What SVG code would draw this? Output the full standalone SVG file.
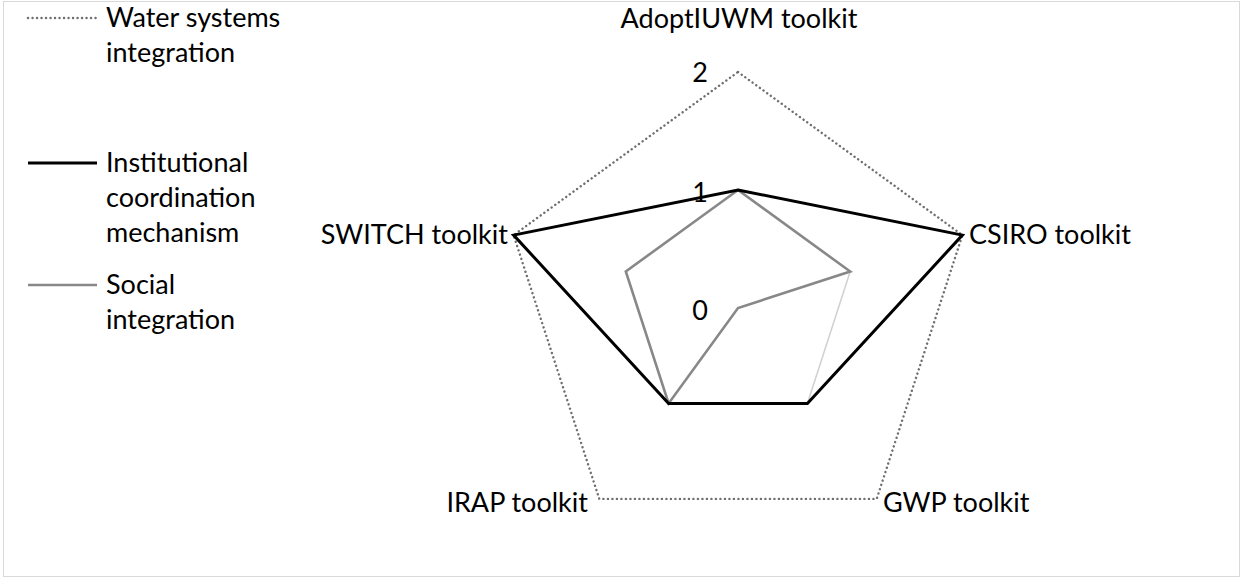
<svg xmlns="http://www.w3.org/2000/svg" width="1242" height="578" viewBox="0 0 1242 578">
<style>
.t{font-family:Lato,"Open Sans","Liberation Sans",sans-serif;font-size:27px;fill:#000}
.water{fill:none;stroke:#6f6f6f;stroke-width:2.4;stroke-dasharray:0.1 4.4;stroke-linecap:round}
.inst{fill:none;stroke:#000;stroke-width:3;stroke-linejoin:miter}
.soc{fill:none;stroke:#888;stroke-width:2.6;stroke-linejoin:miter}
.faint{fill:none;stroke:#d0d0d0;stroke-width:1.5}
</style>
<rect x="3.5" y="1.5" width="1236" height="575" fill="#fff" stroke="#d9d9d9"/>
<g id="legend">
  <line class="water" x1="28" y1="18" x2="97" y2="18"/>
  <text class="t" x="106" y="27">Water systems</text>
  <text class="t" x="106" y="62">integration</text>
  <line class="inst" x1="28" y1="163" x2="97" y2="163"/>
  <text class="t" x="106" y="172">Institutional</text>
  <text class="t" x="106" y="207">coordination</text>
  <text class="t" x="106" y="242">mechanism</text>
  <line class="soc" x1="28" y1="285" x2="97" y2="285"/>
  <text class="t" x="106" y="294">Social</text>
  <text class="t" x="106" y="329">integration</text>
</g>
<g id="connectors">
  <polygon id="water-series" class="water" points="738,72 962.4,235.1 876.7,498.9 599.3,498.9 513.6,235.1"/>
  <line class="faint" x1="850.2" y1="271.5" x2="807.4" y2="403.5"/>
  <polygon id="social-series" class="soc" points="738,190 850.2,271.5 738,308 668.6,403.5 625.8,271.5"/>
  <polygon id="inst-series" class="inst" points="738,190 962.4,235.1 807.4,403.5 668.6,403.5 513.6,235.1"/>
</g>
<g id="scale">
  <text class="t" x="708" y="82" text-anchor="end">2</text>
  <text class="t" x="708" y="202" text-anchor="end">1</text>
  <text class="t" x="708" y="320" text-anchor="end">0</text>
</g>
<g id="axis-adopt"><text class="t" x="739" y="28" text-anchor="middle">AdoptIUWM toolkit</text></g>
<g id="axis-csiro"><text class="t" x="969" y="244">CSIRO toolkit</text></g>
<g id="axis-gwp"><text class="t" x="883" y="512">GWP toolkit</text></g>
<g id="axis-irap"><text class="t" x="588" y="512" text-anchor="end">IRAP toolkit</text></g>
<g id="axis-switch"><text class="t" x="508" y="244" text-anchor="end">SWITCH toolkit</text></g>
</svg>
